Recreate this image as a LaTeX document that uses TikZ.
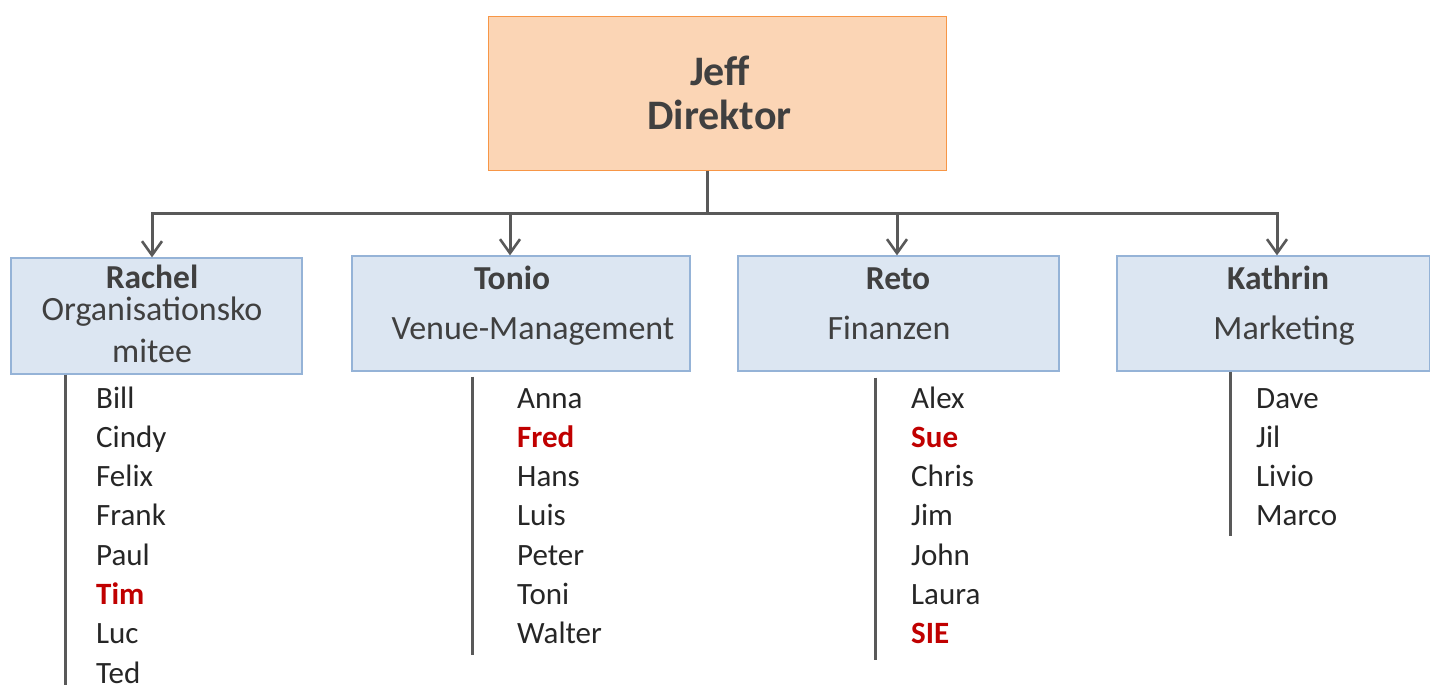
\documentclass[tikz,border=0pt]{standalone}
\usepackage{fontspec}
\setmainfont{Carlito}
\usetikzlibrary{arrows.meta}
\definecolor{jefffill}{HTML}{FBD5B5}
\definecolor{jeffline}{HTML}{F79646}
\definecolor{boxfill}{HTML}{DCE6F2}
\definecolor{boxline}{HTML}{95B3D7}
\definecolor{conn}{HTML}{595959}
\definecolor{titlecol}{HTML}{404040}
\definecolor{namecol}{HTML}{262626}
\definecolor{hilite}{HTML}{C00000}
\tikzset{
  jeffbox/.style={draw=jeffline, fill=jefffill, line width=1pt, inner sep=0pt},
  deptbox/.style={draw=boxline, fill=boxfill, line width=1.2pt, inner sep=0pt},
  bigtitle/.style={anchor=base, inner sep=0pt, text=titlecol, font=\fontsize{42}{44}\selectfont\bfseries},
  depthead/.style={anchor=base, inner sep=0pt, text=titlecol, font=\fontsize{33.5}{40}\selectfont\bfseries},
  deptsub/.style={anchor=base, inner sep=0pt, text=titlecol, font=\fontsize{34}{40}\selectfont},
  member/.style={anchor=base west, inner sep=0pt, text=namecol, font=\fontsize{31}{39}\selectfont},
  keymember/.style={member, text=hilite, font=\fontsize{31}{39}\selectfont\bfseries},
  conline/.style={draw=conn, line width=3pt},
  arr/.style={conline, -{Straight Barb[length=14pt,width=20pt,line width=2.6pt]}},
  stem/.style={draw=conn, line width=3pt},
}
\begin{document}
\begin{tikzpicture}[x=1pt,y=-1pt]
\useasboundingbox (0,0) rectangle (1430,685);

% boxes
\node[jeffbox, minimum width=458pt, minimum height=153pt] (jeff) at (717,93.5) {};
\node[deptbox, minimum width=291pt, minimum height=116pt] (rachel) at (156.5,316) {};
\node[deptbox, minimum width=338pt, minimum height=115pt] (tonio) at (521,313.5) {};
\node[deptbox, minimum width=321pt, minimum height=115pt] (reto) at (898.5,313.5) {};
\node[deptbox, minimum width=313pt, minimum height=115pt] (kathrin) at (1273.5,313.5) {};

% texts in boxes
\node[bigtitle] (jeffname) at (720,85) {Jeff};
\node[bigtitle] (jeffrole) at (719.5,129) {Direktor};

\node[depthead] (rachelname) at (152,288) {Rachel};
\node[deptsub] (rachelrole1) at (152,320.5) {Organisationsko};
\node[deptsub] (rachelrole2) at (152,362.5) {mitee};

\node[depthead] (tonioname) at (512,289) {Tonio};
\node[deptsub] (toniorole) at (533,339) {Venue-Management};

\node[depthead] (retoname) at (898,289) {Reto};
\node[deptsub] (retorole) at (889,339) {Finanzen};

\node[depthead] (kathrinname) at (1278,289) {Kathrin};
\node[deptsub] (kathrinrole) at (1284,339) {Marketing};

% connectors
\coordinate (bus) at (707,213);
\draw[conline] (jeff.south -| bus) -- (bus);
\draw[arr] (bus) -| ([xshift=-4.5pt]rachel.north);
\draw[arr] (bus) -| ([xshift=-11pt]tonio.north);
\draw[arr] (bus) -| ([xshift=-1.5pt]reto.north);
\draw[arr] (bus) -| ([xshift=3.5pt]kathrin.north);

% member stems
\coordinate (rachelend) at (65,685);
\coordinate (tonioend) at (472,655);
\coordinate (retoend) at (875,660);
\coordinate (kathrinend) at (1230,536);
\draw[stem] (rachel.south -| rachelend) -- (rachelend);
\draw[stem] ([yshift=-5pt]tonio.south -| tonioend) -- (tonioend);
\draw[stem] ([yshift=-6pt]reto.south -| retoend) -- (retoend);
\draw[stem] (kathrin.south -| kathrinend) -- (kathrinend);

% member lists
\node[member] (m11) at (96,408) {Bill};
\node[member] (m12) at (96,447.3) {Cindy};
\node[member] (m13) at (96,486.6) {Felix};
\node[member] (m14) at (96,525.9) {Frank};
\node[member] (m15) at (96,565.2) {Paul};
\node[keymember] (m16) at (96,604.5) {Tim};
\node[member] (m17) at (96,643.8) {Luc};
\node[member] (m18) at (96,683.1) {Ted};

\node[member] (m21) at (517,408) {Anna};
\node[keymember] (m22) at (517,447.3) {Fred};
\node[member] (m23) at (517,486.6) {Hans};
\node[member] (m24) at (517,525.9) {Luis};
\node[member] (m25) at (517,565.2) {Peter};
\node[member] (m26) at (517,604.5) {Toni};
\node[member] (m27) at (517,643.8) {Walter};

\node[member] (m31) at (911,408) {Alex};
\node[keymember] (m32) at (911,447.3) {Sue};
\node[member] (m33) at (911,486.6) {Chris};
\node[member] (m34) at (911,525.9) {Jim};
\node[member] (m35) at (911,565.2) {John};
\node[member] (m36) at (911,604.5) {Laura};
\node[keymember] (m37) at (911,643.8) {SIE};

\node[member] (m41) at (1256,408) {Dave};
\node[member] (m42) at (1256,447.3) {Jil};
\node[member] (m43) at (1256,486.6) {Livio};
\node[member] (m44) at (1256,525.9) {Marco};
\end{tikzpicture}
\end{document}
